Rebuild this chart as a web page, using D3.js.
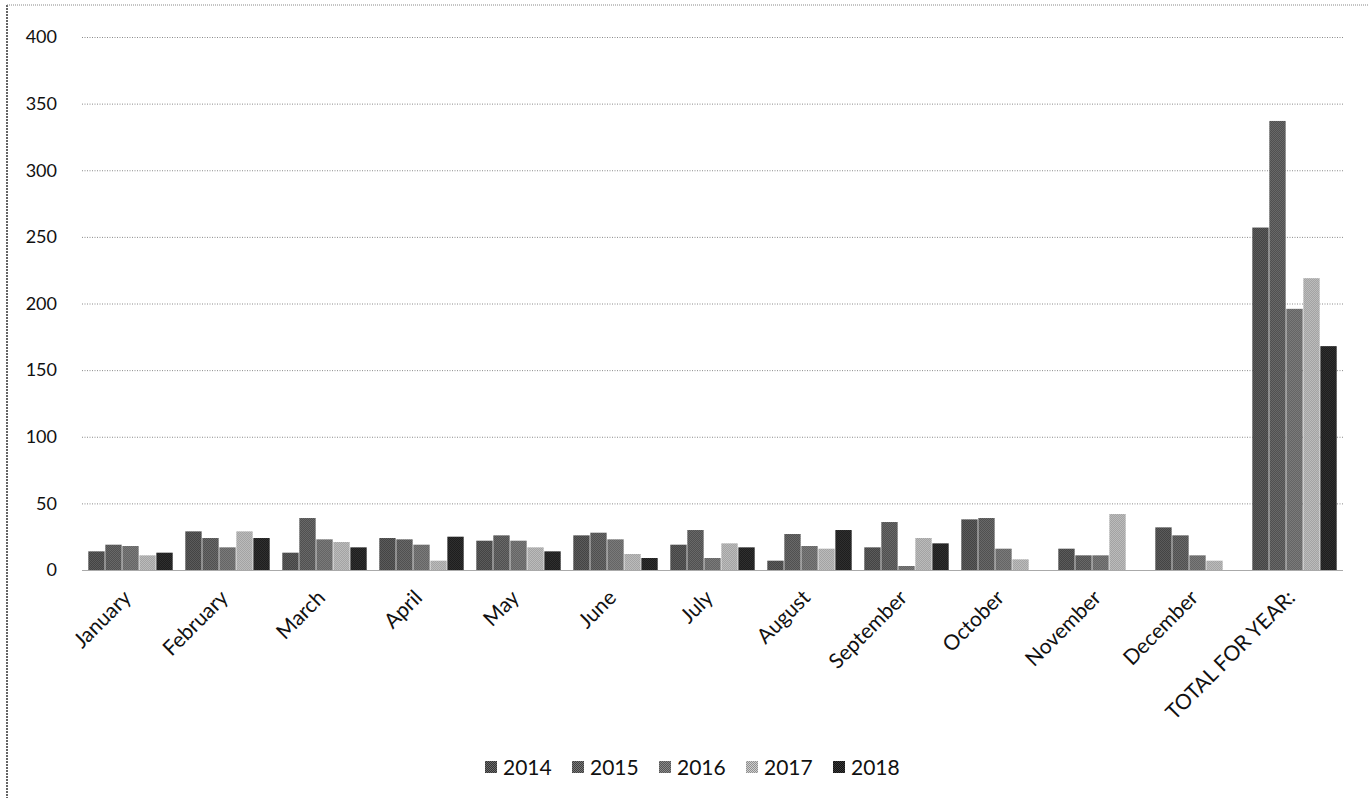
<!DOCTYPE html>
<html>
<head>
<meta charset="utf-8">
<script src="https://cdn.jsdelivr.net/npm/d3@7/dist/d3.min.js"></script>
<style>
  html, body { margin: 0; padding: 0; background: #fff; }
  svg { display: block; }
  text { font-family: Lato, "Open Sans", "Liberation Sans", sans-serif; fill: #111; }
</style>
</head>
<body>
<svg id="chart" width="1369" height="798"></svg>
<script>
// Monthly counts per year, plus the yearly totals in the last column
const categories = ["January", "February", "March", "April", "May", "June", "July",
  "August", "September", "October", "November", "December", "TOTAL FOR YEAR:"];
const years = ["2014", "2015", "2016", "2017", "2018"];
const values2014 = [14, 29, 13, 24, 22, 26, 19, 7, 17, 38, 16, 32, 257];
const values2015 = [19, 24, 39, 23, 26, 28, 30, 27, 36, 39, 11, 26, 337];
const values2016 = [18, 17, 23, 19, 22, 23, 9, 18, 3, 16, 11, 11, 196];
const values2017 = [11, 29, 21, 7, 17, 12, 20, 16, 24, 8, 42, 7, 219];
const values2018 = [13, 24, 17, 25, 14, 9, 17, 30, 20, 0, 0, 0, 168];
const yTicks = [0, 50, 100, 150, 200, 250, 300, 350, 400];

const seriesValues = [values2014, values2015, values2016, values2017, values2018];
const rows = categories.map((c, i) => {
  const r = { category: c };
  years.forEach((y, k) => { r[y] = seriesValues[k][i]; });
  return r;
});

// two-tone checker fills give the printed, dithered look of each series
const tones = {
  "2014": ["#333", "#6c6c6c"],
  "2015": ["#3e3e3e", "#7a7a7a"],
  "2016": ["#555", "#8a8a8a"],
  "2017": ["#8f8f8f", "#cfcfcf"],
  "2018": ["#111", "#3c3c3c"]
};

const svg = d3.select("#chart");
const defs = svg.append("defs");
years.forEach(y => {
  const p = defs.append("pattern")
    .attr("id", "pat" + y)
    .attr("patternUnits", "userSpaceOnUse")
    .attr("width", 2).attr("height", 2);
  p.append("rect").attr("width", 2).attr("height", 2).attr("fill", tones[y][0]);
  p.append("rect").attr("width", 1).attr("height", 1).attr("fill", tones[y][1]);
  p.append("rect").attr("x", 1).attr("y", 1).attr("width", 1).attr("height", 1).attr("fill", tones[y][1]);
});

const margin = { left: 82, right: 26, top: 37, bottom: 228 };
const W = 1369, H = 798;
const x0 = margin.left, x1 = W - margin.right;
const yTop = margin.top, yBot = H - margin.bottom;

// outer frame: dotted left and top edges
svg.append("line").attr("x1", 7).attr("x2", 7).attr("y1", 5).attr("y2", H)
  .attr("stroke", "#333").attr("stroke-width", 1.5).attr("stroke-dasharray", "2,1");
svg.append("line").attr("x1", 7).attr("x2", W).attr("y1", 5).attr("y2", 5)
  .attr("stroke", "#888").attr("stroke-width", 1).attr("stroke-dasharray", "1,1");

const x = d3.scaleBand().domain(categories).range([x0, x1])
  .paddingInner(0.13).paddingOuter(0.065);
const xs = d3.scaleBand().domain(years).range([0, x.bandwidth()]).paddingInner(0.04);
const y = d3.scaleLinear().domain([0, 400]).range([yBot, yTop]);

// horizontal gridlines and tick labels
const yAxis = d3.axisLeft(y).tickValues(yTicks).tickSize(-(x1 - x0)).tickPadding(25);
const gy = svg.append("g").attr("transform", `translate(${x0},0)`).call(yAxis);
gy.select(".domain").remove();
gy.selectAll(".tick line")
  .attr("stroke", d => d === 0 ? "#aaa" : "#8a8a8a")
  .attr("stroke-width", 1)
  .attr("stroke-dasharray", d => d === 0 ? null : "1,1.5");
gy.selectAll(".tick text").attr("font-size", 18).attr("fill", "#111")
  .style("font-family", "Lato, 'Open Sans', sans-serif");

// bars
const groups = svg.append("g").selectAll("g").data(rows).join("g")
  .attr("transform", d => `translate(${x(d.category)},0)`);
groups.selectAll("rect").data(d => years.map(k => ({ key: k, value: d[k] }))).join("rect")
  .attr("x", d => xs(d.key))
  .attr("width", xs.bandwidth())
  .attr("y", d => y(d.value))
  .attr("height", d => y(0) - y(d.value))
  .attr("fill", d => `url(#pat${d.key})`);

// x axis labels, rotated
const xAxis = d3.axisBottom(x).tickSize(0).tickPadding(0);
const gx = svg.append("g").attr("transform", `translate(0,${yBot})`).call(xAxis);
gx.select(".domain").remove();
gx.selectAll(".tick text")
  .attr("font-size", 21).attr("fill", "#111")
  .style("font-family", "Lato, 'Open Sans', sans-serif")
  .attr("text-anchor", "end")
  .attr("dy", null)
  .attr("y", 0)
  .attr("transform", "translate(2,29) rotate(-45)");

// legend
const legend = svg.append("g").attr("transform", "translate(485,767)");
const item = legend.selectAll("g").data(years).join("g")
  .attr("transform", (d, i) => `translate(${i * 87},0)`);
item.append("rect").attr("x", 0).attr("y", -6).attr("width", 12).attr("height", 12)
  .attr("fill", d => `url(#pat${d})`);
item.append("text").attr("x", 18).attr("y", 0).attr("dy", "0.36em")
  .attr("font-size", 21).text(d => d);
</script>
</body>
</html>
